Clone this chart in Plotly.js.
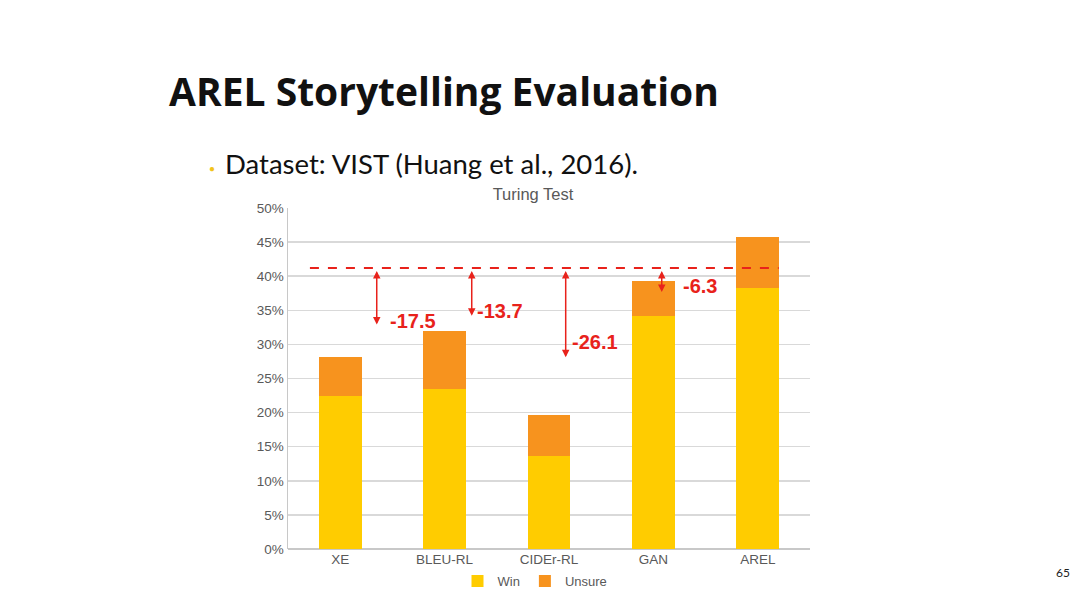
<!DOCTYPE html>
<html>
<head>
<meta charset="utf-8">
<script src="https://cdn.plot.ly/plotly-3.0.1.min.js"></script>
<style>
  html, body { margin: 0; padding: 0; background: #fff; }
  #chart { width: 1080px; height: 607px; }
</style>
</head>
<body>
<div id="chart"></div>
<script>
// Data
const models = ["XE", "BLEU-RL", "CIDEr-RL", "GAN", "AREL"];
const winPct = [22.4, 23.4, 13.7, 34.2, 38.3];
const unsurePct = [5.8, 8.6, 5.9, 5.1, 7.5];
const gapLabels = ["-17.5", "-13.7", "-26.1", "-6.3"];
const gapBottoms = [32.9, 34.2, 28.1, 37.7];
const refLine = 41.2;
const yTicks = [0, 5, 10, 15, 20, 25, 30, 35, 40, 45, 50];

// where the arrows / their labels sit (category-index units, % units)
const arrowX = [0.35, 1.26, 2.16, 3.08];
const labelX = [0.46, 1.29, 2.2, 3.26];
const labelY = [33.5, 34.9, 30.3, 38.5];

// Plot box in page pixels
const box = { l: 288, r: 810, t: 208, b: 550 };
const W = 1080, H = 607;
const px = (x) => (x - box.l) / (box.r - box.l);
const py = (y) => (box.b - y) / (box.b - box.t);

const red = "#e8221b";
const tickGray = "#595959";

const traces = [
  {
    x: models, y: winPct, name: "Win", type: "bar",
    marker: { color: "#ffcc00" }, width: 0.41,
  },
  {
    x: models, y: unsurePct, name: "Unsure", type: "bar",
    marker: { color: "#f7931e" }, width: 0.41,
  },
];

const shapes = [
  {
    type: "line", xref: "x", yref: "y",
    x0: -0.29, x1: 4.2, y0: refLine, y1: refLine,
    line: { color: red, width: 2, dash: "dash" },
  },
];

const annotations = [];

// gap arrows + labels
arrowX.forEach((gx, i) => {
  annotations.push({
    xref: "x", yref: "y", axref: "x", ayref: "y",
    x: gx, y: gapBottoms[i], ax: gx, ay: refLine - 0.2,
    text: "", showarrow: true, arrowhead: 2, arrowside: "end+start",
    arrowsize: 1, arrowwidth: 1.5, arrowcolor: red,
  });
  annotations.push({
    xref: "x", yref: "y",
    x: labelX[i], y: labelY[i],
    xanchor: "left", yanchor: "middle",
    text: "<b>" + gapLabels[i] + "</b>", showarrow: false,
    font: { family: "Liberation Sans, Arial, sans-serif", size: 20, color: red },
  });
});

// slide text
annotations.push({
  xref: "paper", yref: "paper", x: px(167), y: py(90),
  xanchor: "left", yanchor: "middle", showarrow: false,
  text: "<b>AREL Storytelling Evaluation</b>",
  font: { family: "Open Sans, Lato, sans-serif", size: 39, color: "#111" },
});
annotations.push({
  xref: "paper", yref: "paper", x: px(223), y: py(163),
  xanchor: "left", yanchor: "middle", showarrow: false,
  text: "Dataset: VIST (Huang et al., 2016).",
  font: { family: "Lato, Open Sans, sans-serif", size: 27.5, color: "#111" },
});
annotations.push({
  xref: "paper", yref: "paper", x: px(212), y: py(168),
  xanchor: "center", yanchor: "middle", showarrow: false,
  text: "●", font: { size: 10, color: "#f2c31b" },
});
annotations.push({
  xref: "paper", yref: "paper", x: px(1063), y: py(574),
  xanchor: "center", yanchor: "middle", showarrow: false,
  text: "65", font: { family: "Lato, sans-serif", size: 12, color: "#222" },
});

const layout = {
  width: W, height: H,
  margin: { l: box.l, r: W - box.r, t: box.t, b: H - box.b, pad: 0 },
  paper_bgcolor: "#ffffff", plot_bgcolor: "#ffffff",
  barmode: "stack",
  bargap: 0.59,
  showlegend: true,
  title: {
    text: "Turing Test",
    x: 533 / W, xanchor: "center",
    y: 1 - 194 / H, yanchor: "middle",
    font: { family: "Liberation Sans, Arial, sans-serif", size: 16.5, color: tickGray },
  },
  font: { family: "Liberation Sans, Arial, sans-serif", size: 13, color: tickGray },
  xaxis: {
    type: "category",
    showgrid: false, zeroline: false,
    showline: false, ticks: "",
    tickfont: { size: 13.5, color: tickGray },
    range: [-0.5, 4.5],
  },
  yaxis: {
    range: [0, 50],
    tickvals: yTicks,
    ticktext: yTicks.map((v) => v + "%"),
    showgrid: true, gridcolor: "#d9d9d9", gridwidth: 1.5,
    zeroline: true, zerolinecolor: "#c8c8c8", zerolinewidth: 1.5,
    showline: true, linecolor: "#c8c8c8", linewidth: 1.5,
    ticks: "", ticklen: 0,
    tickfont: { size: 13.5, color: tickGray },
  },
  legend: {
    orientation: "h",
    traceorder: "normal",
    x: px(535), xanchor: "center",
    y: py(581), yanchor: "middle",
    font: { size: 13, color: tickGray },
    itemwidth: 30,
    bgcolor: "rgba(0,0,0,0)",
  },
  shapes: shapes,
  annotations: annotations,
};

Plotly.newPlot("chart", traces, layout, { staticPlot: true });
</script>
</body>
</html>
